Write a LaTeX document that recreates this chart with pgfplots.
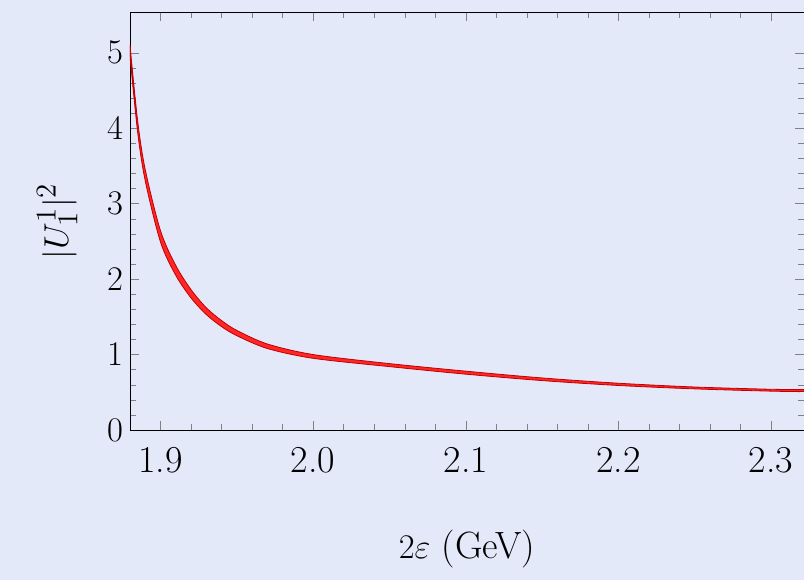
\documentclass[border=0pt]{standalone}
\usepackage{pgfplots}
\pgfplotsset{compat=1.18}
\definecolor{bg}{RGB}{228,233,250}
\begin{document}
\begin{tikzpicture}
\fill[bg] (-65pt,-75pt) rectangle (337pt,215pt);
\useasboundingbox (-65pt,-75pt) rectangle (337pt,215pt);
\begin{axis}[at={(0,0)},anchor=south west,scale only axis,width=337pt,height=209pt,
 xmin=1.880,xmax=2.3216,ymin=0,ymax=5.54,
 xtick={1.9,2.0,2.1,2.2,2.3},xticklabels={1.9,2.0,2.1,2.2,2.3},
 ytick={0,1,2,3,4,5},
 minor x tick num=4, minor y tick num=4,
 tick align=inside, tick pos=both,
 ticklabel style={font=\fontsize{19}{21}\selectfont},
 xticklabel style={yshift=-5pt},
 label style={font=\fontsize{19}{21}\selectfont},
 xlabel={$2\varepsilon$ (GeV)}, ylabel={$|U_1^1|^2$},
 xlabel style={yshift=-22pt}, ylabel style={yshift=8pt},
 clip=true]
\addplot[draw=red!75!black,thin,fill=red!85,smooth] coordinates {(1.880,5.1)(1.885,4.1)(1.89,3.45)(1.90,2.64)(1.91,2.18)(1.92,1.86)(1.93,1.62)(1.94,1.45)(1.95,1.32)(1.97,1.14)(2.0,1.00)(2.05,0.88)(2.1,0.78)(2.15,0.69)(2.2,0.62)(2.25,0.57)(2.3,0.54)(2.322,0.535)
(2.322,0.51)(2.3,0.515)(2.25,0.545)(2.2,0.59)(2.15,0.655)(2.1,0.74)(2.05,0.84)(2.0,0.95)(1.97,1.08)(1.95,1.25)(1.94,1.37)(1.93,1.53)(1.92,1.75)(1.91,2.05)(1.90,2.49)(1.89,3.3)(1.885,3.95)(1.880,4.95)} -- cycle;
\end{axis}
\end{tikzpicture}
\end{document}
